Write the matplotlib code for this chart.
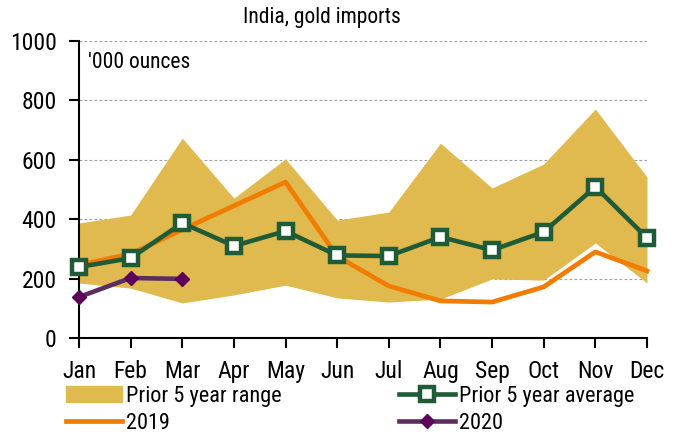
import matplotlib
matplotlib.use("Agg")
import matplotlib.pyplot as plt
from matplotlib.patches import Patch
from matplotlib.lines import Line2D

months = ["Jan", "Feb", "Mar", "Apr", "May", "Jun",
          "Jul", "Aug", "Sep", "Oct", "Nov", "Dec"]

range_low = [185, 168, 118, 145, 178, 135, 121, 131, 199, 195, 320, 185]
range_high = [387, 414, 673, 471, 603, 397, 424, 656, 505, 586, 771, 542]
avg_5y = [239, 269, 387, 310, 360, 278, 276, 340, 296, 357, 509, 337]
y2019 = [246, 283, 365, 445, 525, 275, 175, 125, 121, 172, 290, 226]
y2020 = [138, 202, 199]

gold = "#E0BA4E"
green = "#1E5B36"
orange = "#F07D00"
purple = "#5B2E5E"
purple_mk = "#5C005C"

plt.rcParams["font.family"] = ["Roboto Condensed", "DejaVu Sans"]
plt.rcParams["font.stretch"] = "condensed"
plt.rcParams["font.size"] = 15

fig = plt.figure(figsize=(6.8, 4.4), dpi=100)
ax = fig.add_axes([79 / 680, 1 - 338 / 440, 568 / 680, 297 / 440])

x = list(range(len(months)))

avg_style = dict(color=green, lw=3.3, marker="s", ms=9.5, mfc="white", mec=green, mew=3.2)
p20_style = dict(color=purple, lw=3.3, marker="D", ms=7.5, mfc=purple_mk, mec=purple_mk)

ax.fill_between(x, range_low, range_high, color=gold, lw=0, zorder=1)
ax.plot(x, y2019, color=orange, lw=3.4, zorder=3, clip_on=False)
ax.plot(x, avg_5y, zorder=4, clip_on=False, **avg_style)
ax.plot(x[:len(y2020)], y2020, zorder=5, clip_on=False, **p20_style)

ax.set_xlim(0, 11)
ax.set_ylim(0, 1000)
ax.set_xticks(x)
ax.set_xticklabels(months)
ax.set_yticks(range(0, 1001, 200))

for v in range(200, 1001, 200):
    ax.axhline(v, color="#A0A0A0", lw=0.8, ls=(0, (2.5, 2)), zorder=0)

for s in ["top", "right"]:
    ax.spines[s].set_visible(False)
ax.spines["left"].set_linewidth(1.5)
ax.spines["bottom"].set_linewidth(1.5)
ax.tick_params(axis="y", direction="out", length=7, width=1.5, pad=9, labelsize=17)
ax.tick_params(axis="x", direction="out", length=7, width=1.5, pad=9, labelsize=17)

ax.text(9 / 568, 0.926, "'000 ounces", transform=ax.transAxes, va="center", ha="left",
        fontsize=15.5)
fig.text(322 / 680, 1 - 18 / 440, "India, gold imports", ha="center", va="center",
         fontsize=15.5)

leg_kw = dict(loc="upper left", frameon=False, fontsize=16, handlelength=2.5,
              handletextpad=0.2, labelspacing=0.25, borderaxespad=0, borderpad=0)
fig.legend([Patch(color=gold), Line2D([], [], color=orange, lw=3.4)],
           ["Prior 5 year range", "2019"],
           bbox_to_anchor=(66 / 680, 1 - 386 / 440), **leg_kw)
fig.legend([Line2D([], [], **avg_style), Line2D([], [], **p20_style)],
           ["Prior 5 year average", "2020"],
           bbox_to_anchor=(399 / 680, 1 - 386 / 440), **leg_kw)

fig.savefig("out.png", dpi=100)
